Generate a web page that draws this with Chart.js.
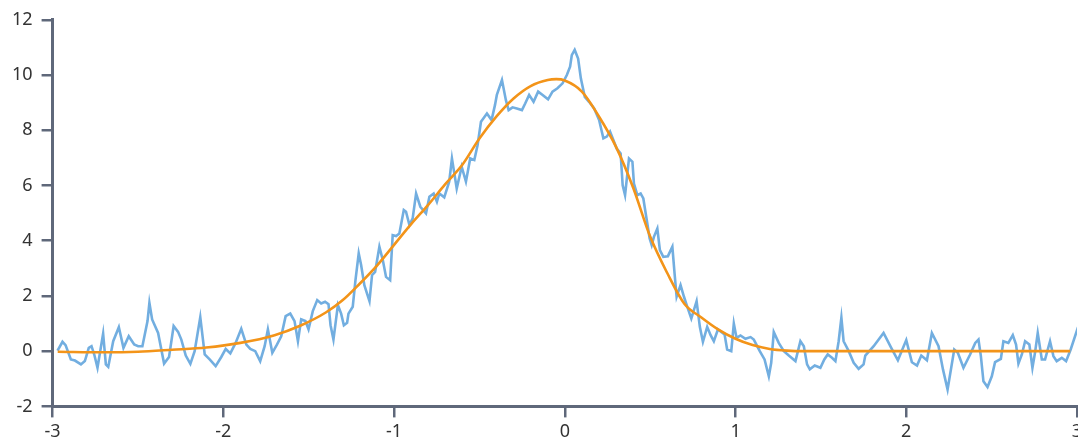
<!DOCTYPE html>
<html>
<head>
<meta charset="utf-8">
<script src="https://cdn.jsdelivr.net/npm/chart.js@4/dist/chart.umd.min.js"></script>
<style>
    html, body { margin: 0; padding: 0; background: #fff; overflow: hidden; }
    #chart { display: block; }
</style>
</head>
<body>
<canvas id="chart" width="1078" height="443"></canvas>
<script>
// noisy measurement (blue)
const measuredX = [
    -2.971, -2.942, -2.924, -2.893, -2.869, -2.834, -2.811, -2.788, -2.772, -2.756,
    -2.737, -2.704, -2.688, -2.674, -2.645, -2.612, -2.585, -2.554, -2.522, -2.499,
    -2.474, -2.444, -2.433, -2.417, -2.382, -2.347, -2.318, -2.291, -2.265, -2.246,
    -2.220, -2.193, -2.168, -2.135, -2.109, -2.080, -2.045, -2.012, -1.986, -1.959,
    -1.928, -1.895, -1.865, -1.842, -1.813, -1.784, -1.758, -1.739, -1.713, -1.686,
    -1.661, -1.635, -1.608, -1.583, -1.563, -1.544, -1.519, -1.501, -1.476, -1.450,
    -1.427, -1.404, -1.384, -1.372, -1.355, -1.329, -1.310, -1.294, -1.275, -1.267,
    -1.242, -1.226, -1.207, -1.193, -1.174, -1.144, -1.129, -1.111, -1.086, -1.066,
    -1.047, -1.023, -1.008, -0.988, -0.969, -0.943, -0.930, -0.910, -0.891, -0.871,
    -0.846, -0.813, -0.793, -0.768, -0.749, -0.735, -0.706, -0.677, -0.661, -0.647,
    -0.633, -0.604, -0.579, -0.554, -0.530, -0.511, -0.491, -0.456, -0.429, -0.409,
    -0.398, -0.368, -0.345, -0.329, -0.306, -0.281, -0.251, -0.232, -0.209, -0.183,
    -0.156, -0.130, -0.098, -0.072, -0.043, -0.013, 0.012, 0.031, 0.041, 0.058,
    0.078, 0.094, 0.117, 0.142, 0.172, 0.201, 0.226, 0.246, 0.265, 0.285,
    0.304, 0.327, 0.339, 0.353, 0.376, 0.396, 0.405, 0.425, 0.444, 0.460,
    0.480, 0.497, 0.509, 0.522, 0.542, 0.557, 0.577, 0.604, 0.630, 0.643,
    0.655, 0.678, 0.698, 0.717, 0.741, 0.772, 0.791, 0.809, 0.834, 0.854,
    0.873, 0.897, 0.936, 0.951, 0.975, 0.990, 1.006, 1.029, 1.058, 1.088,
    1.107, 1.142, 1.170, 1.195, 1.209, 1.224, 1.253, 1.283, 1.312, 1.351,
    1.380, 1.400, 1.419, 1.435, 1.464, 1.497, 1.520, 1.540, 1.565, 1.585,
    1.604, 1.620, 1.633, 1.663, 1.692, 1.721, 1.750, 1.760, 1.809, 1.867,
    1.912, 1.951, 2.000, 2.033, 2.063, 2.088, 2.121, 2.150, 2.189, 2.215,
    2.242, 2.281, 2.302, 2.335, 2.374, 2.404, 2.423, 2.437, 2.452, 2.476,
    2.501, 2.520, 2.554, 2.569, 2.598, 2.624, 2.643, 2.657, 2.677, 2.696,
    2.721, 2.739, 2.754, 2.770, 2.794, 2.813, 2.842, 2.862, 2.881, 2.911,
    2.936, 2.963, 3.006
];
const measuredY = [
    0.02, 0.34, 0.22, -0.30, -0.34, -0.48, -0.36, 0.12, 0.18, -0.12,
    -0.60, 0.64, -0.48, -0.57, 0.36, 0.87, 0.12, 0.54, 0.24, 0.18,
    0.18, 1.09, 1.75, 1.15, 0.66, -0.45, -0.21, 0.91, 0.70, 0.42,
    -0.16, -0.46, 0.00, 1.23, -0.12, -0.30, -0.54, -0.21, 0.08, -0.08,
    0.30, 0.81, 0.24, 0.08, 0.00, -0.36, 0.18, 0.79, -0.06, 0.24,
    0.54, 1.27, 1.36, 1.09, 0.36, 1.15, 1.09, 0.79, 1.45, 1.85,
    1.73, 1.79, 1.70, 0.94, 0.42, 1.67, 1.36, 0.94, 1.03, 1.36,
    1.61, 2.57, 3.54, 3.12, 2.39, 1.81, 2.75, 2.87, 3.78, 3.30,
    2.69, 2.57, 4.20, 4.17, 4.26, 5.11, 5.05, 4.57, 4.81, 5.71,
    5.23, 4.99, 5.59, 5.71, 5.41, 5.71, 5.57, 6.14, 6.98, 6.44,
    5.89, 6.68, 6.14, 6.98, 6.92, 7.46, 8.31, 8.61, 8.37, 8.91,
    9.28, 9.82, 9.09, 8.73, 8.83, 8.79, 8.73, 8.97, 9.28, 9.03,
    9.40, 9.28, 9.12, 9.40, 9.52, 9.70, 10.00, 10.30, 10.72, 10.91,
    10.60, 9.88, 9.21, 9.03, 8.79, 8.37, 7.71, 7.77, 7.95, 7.64,
    7.34, 7.16, 6.01, 5.65, 6.98, 6.86, 6.07, 5.65, 5.71, 5.53,
    4.75, 4.08, 3.84, 4.14, 4.44, 3.66, 3.42, 3.44, 3.78, 2.81,
    1.97, 2.39, 1.97, 1.61, 1.18, 1.81, 0.88, 0.34, 0.88, 0.58,
    0.36, 0.79, 0.60, 0.06, 0.00, 1.00, 0.48, 0.57, 0.45, 0.51,
    0.42, 0.00, -0.30, -0.91, -0.42, 0.69, 0.30, 0.00, -0.16, -0.36,
    0.36, 0.18, -0.48, -0.66, -0.52, -0.60, -0.30, -0.12, -0.24, -0.36,
    0.36, 1.21, 0.36, 0.00, -0.42, -0.64, -0.48, -0.16, 0.18, 0.66,
    0.12, -0.33, 0.40, -0.40, -0.52, -0.16, -0.33, 0.66, 0.18, -0.66,
    -1.39, 0.06, -0.06, -0.60, -0.12, 0.30, 0.42, -0.18, -1.09, -1.30,
    -0.91, -0.40, -0.28, 0.36, 0.30, 0.58, 0.24, -0.45, -0.12, 0.36,
    0.24, -0.60, -0.06, 0.66, -0.30, -0.30, 0.36, -0.18, -0.36, -0.24,
    -0.36, 0.06, 0.87
];

// fitted curve (orange)
const fitX = [
    -2.97, -2.7, -2.5, -2.3, -2.1, -1.9, -1.7, -1.55, -1.4, -1.3,
    -1.2, -1.1, -1.0, -0.9, -0.8, -0.7, -0.6, -0.5, -0.4, -0.3,
    -0.2, -0.1, -0.05, 0.0, 0.1, 0.2, 0.3, 0.4, 0.5, 0.6,
    0.7, 0.8, 0.9, 1.0, 1.1, 1.2, 1.3, 1.4, 2.0, 2.5, 2.96
];
const fitY = [
    -0.02, -0.04, -0.02, 0.05, 0.13, 0.30, 0.58, 0.92, 1.40, 1.85,
    2.45, 3.10, 3.85, 4.60, 5.30, 6.05, 6.75, 7.70, 8.50, 9.15,
    9.60, 9.82, 9.85, 9.80, 9.40, 8.50, 7.40, 5.93, 4.15, 2.83,
    1.72, 1.22, 0.78, 0.45, 0.22, 0.08, 0.02, 0.00, 0.00, 0.00, 0.00
];

const xTicks = { min: -3, max: 3, step: 1 };
const yTicks = { min: -2, max: 12, step: 2 };

const axisColor = "#5f687a";
const labelColor = "#333333";
const tickFont = { family: "Noto Sans", size: 18 };

const toPoints = (xs, ys) => xs.map((x, i) => ({ x, y: ys[i] }));

const ctx = document.getElementById("chart").getContext("2d");

new Chart(ctx, {
    type: "line",
    data: {
        datasets: [
            {
                label: "fit",
                data: toPoints(fitX, fitY),
                borderColor: "#f39419",
                borderWidth: 2.6,
                pointRadius: 0,
                cubicInterpolationMode: "monotone",
                order: 0,
            },
            {
                label: "measured",
                data: toPoints(measuredX, measuredY),
                borderColor: "#72aee0",
                borderWidth: 2.6,
                pointRadius: 0,
                tension: 0,
                order: 1,
            },
        ],
    },
    options: {
        responsive: false,
        animation: false,
        devicePixelRatio: 1,
        layout: {
            padding: { top: 11, left: 3, right: 1, bottom: -4 },
        },
        plugins: {
            legend: { display: false },
            tooltip: { enabled: false },
        },
        scales: {
            x: {
                type: "linear",
                min: xTicks.min,
                max: xTicks.max,
                ticks: { stepSize: xTicks.step, color: labelColor, font: tickFont, padding: 4 },
                grid: { drawOnChartArea: false, tickLength: 11, color: axisColor, lineWidth: 2.5 },
                border: { color: axisColor, width: 3 },
                afterFit(scale) {
                    scale.paddingRight = 0;
                },
            },
            y: {
                type: "linear",
                min: yTicks.min,
                max: yTicks.max,
                ticks: { stepSize: yTicks.step, color: labelColor, font: tickFont, padding: 9 },
                grid: { drawOnChartArea: false, tickLength: 11, color: axisColor, lineWidth: 2.5 },
                border: { color: axisColor, width: 3 },
            },
        },
    },
});
</script>
</body>
</html>
